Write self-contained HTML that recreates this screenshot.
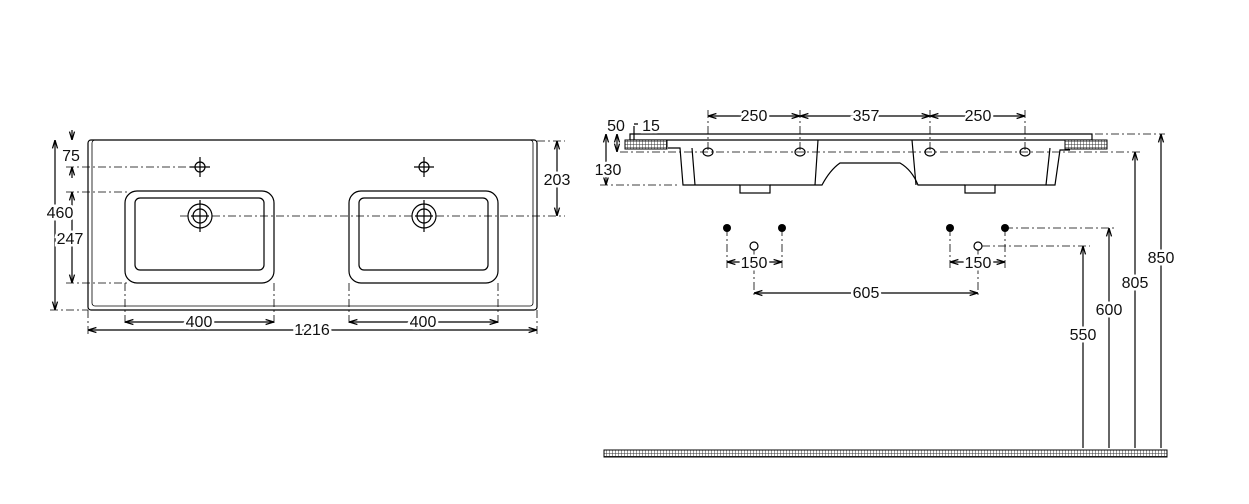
<!DOCTYPE html>
<html><head><style>body{margin:0;background:#fff}svg{display:block}text{font-family:"Liberation Sans",sans-serif;font-size:16px;fill:#111}</style></head><body>
<svg width="1249" height="504" viewBox="0 0 1249 504" xmlns="http://www.w3.org/2000/svg">
<defs>
<marker id="a" viewBox="0 0 10 10" refX="10" refY="5" markerWidth="7" markerHeight="7" orient="auto-start-reverse"><path d="M0,2L10,5L0,8" fill="none" stroke="#000" stroke-width="1.5"/></marker>
<pattern id="h" width="3" height="3" patternUnits="userSpaceOnUse"><rect width="3" height="3" fill="#fff"/><path d="M0,0H3M0,0V3" stroke="#333" stroke-width="1"/></pattern>
</defs>
<g stroke="#000" fill="none" stroke-width="1.2">
<rect x="88" y="140" width="449" height="170" rx="3"/>
<rect x="92" y="140" width="441" height="166" rx="3" stroke-width="0.8"/>
<g stroke-dasharray="8,3,2,3" stroke-width="0.8">
<line x1="50" y1="310" x2="88" y2="310"/><line x1="66" y1="167" x2="190" y2="167"/><line x1="66" y1="192" x2="130" y2="192"/><line x1="66" y1="283" x2="130" y2="283"/>
<line x1="180" y1="216" x2="565" y2="216"/><line x1="537" y1="141" x2="565" y2="141"/>
<line x1="125" y1="283" x2="125" y2="326"/><line x1="274" y1="283" x2="274" y2="326"/><line x1="349" y1="283" x2="349" y2="326"/><line x1="498" y1="283" x2="498" y2="326"/>
<line x1="88" y1="310" x2="88" y2="334"/><line x1="537" y1="310" x2="537" y2="334"/>
</g>
<g id="b1">
<rect x="125" y="191" width="149" height="92" rx="12"/>
<rect x="135" y="198" width="129" height="72" rx="5"/>
<circle cx="200" cy="216" r="12"/><circle cx="200" cy="216" r="7"/>
<path d="M191,216h18M200,207v18M200,200v32"/>
<circle cx="200" cy="167" r="5"/><path d="M190,167h20M200,157v20"/>
</g>
<use href="#b1" transform="translate(224,0)"/>
<line x1="55" y1="140" x2="55" y2="310" marker-start="url(#a)" marker-end="url(#a)"/>
<line x1="72" y1="130" x2="72" y2="140" marker-end="url(#a)"/><line x1="72" y1="178" x2="72" y2="167" marker-end="url(#a)"/>
<line x1="72" y1="192" x2="72" y2="283" marker-start="url(#a)" marker-end="url(#a)"/>
<line x1="557" y1="141" x2="557" y2="216" marker-start="url(#a)" marker-end="url(#a)"/>
<line x1="125" y1="322" x2="274" y2="322" marker-start="url(#a)" marker-end="url(#a)"/>
<line x1="349" y1="322" x2="498" y2="322" marker-start="url(#a)" marker-end="url(#a)"/>
<line x1="88" y1="330" x2="537" y2="330" marker-start="url(#a)" marker-end="url(#a)"/>
<path d="M630,134H1092V140H630Z"/>
<path d="M668,148H680L683,185H740M770,185H822Q830,170 840,163H900Q912,170 918,185H965M995,185H1055L1060,150H1070"/>
<path d="M692,148L695,185M818,140L815,185M912,140L916,185M1050,148L1046,185"/>
<rect x="740" y="185" width="30" height="8"/><rect x="965" y="185" width="30" height="8"/>
<ellipse cx="708" cy="152" rx="5" ry="4"/><ellipse cx="800" cy="152" rx="5" ry="4"/><ellipse cx="930" cy="152" rx="5" ry="4"/><ellipse cx="1025" cy="152" rx="5" ry="4"/>
<g stroke-dasharray="8,3,2,3" stroke-width="0.8">
<line x1="620" y1="152" x2="1140" y2="152"/><line x1="600" y1="185" x2="680" y2="185"/><line x1="1095" y1="134" x2="1165" y2="134"/>
<line x1="708" y1="110" x2="708" y2="150"/><line x1="800" y1="110" x2="800" y2="150"/><line x1="930" y1="110" x2="930" y2="150"/><line x1="1025" y1="110" x2="1025" y2="150"/>
<line x1="727" y1="228" x2="727" y2="268"/><line x1="782" y1="228" x2="782" y2="268"/><line x1="950" y1="228" x2="950" y2="268"/><line x1="1005" y1="228" x2="1005" y2="268"/>
<line x1="754" y1="250" x2="754" y2="298"/><line x1="978" y1="250" x2="978" y2="298"/>
<line x1="1005" y1="228" x2="1115" y2="228"/><line x1="982" y1="246" x2="1090" y2="246"/>
</g>
<line x1="708" y1="116" x2="800" y2="116" marker-start="url(#a)" marker-end="url(#a)"/>
<line x1="800" y1="116" x2="930" y2="116" marker-start="url(#a)" marker-end="url(#a)"/>
<line x1="930" y1="116" x2="1025" y2="116" marker-start="url(#a)" marker-end="url(#a)"/>
<circle cx="754" cy="246" r="4"/><circle cx="978" cy="246" r="4"/>
<line x1="727" y1="262" x2="782" y2="262" marker-start="url(#a)" marker-end="url(#a)"/>
<line x1="950" y1="262" x2="1005" y2="262" marker-start="url(#a)" marker-end="url(#a)"/>
<line x1="754" y1="293" x2="978" y2="293" marker-start="url(#a)" marker-end="url(#a)"/>
<line x1="1083" y1="246" x2="1083" y2="448" marker-start="url(#a)"/>
<line x1="1109" y1="228" x2="1109" y2="448" marker-start="url(#a)"/>
<line x1="1135" y1="152" x2="1135" y2="448" marker-start="url(#a)"/>
<line x1="1161" y1="134" x2="1161" y2="448" marker-start="url(#a)"/>
<line x1="606" y1="134" x2="606" y2="185" marker-start="url(#a)" marker-end="url(#a)"/>
<line x1="617" y1="134" x2="617" y2="152" marker-start="url(#a)" marker-end="url(#a)"/>
<path d="M634,126V146M634,124H638"/>
</g>
<rect x="625" y="140" width="42" height="9" fill="url(#h)" stroke="#000"/>
<rect x="1065" y="140" width="42" height="9" fill="url(#h)" stroke="#000"/>
<rect x="604" y="450" width="563" height="7" fill="url(#h)" stroke="#000"/>
<g fill="#000"><circle cx="727" cy="228" r="4"/><circle cx="782" cy="228" r="4"/><circle cx="950" cy="228" r="4"/><circle cx="1005" cy="228" r="4"/></g>
<g text-anchor="middle" stroke="#fff" stroke-width="5" paint-order="stroke">
<text x="71" y="161">75</text><text x="60" y="218">460</text><text x="70" y="244">247</text><text x="557" y="185">203</text>
<text x="199" y="327">400</text><text x="423" y="327">400</text><text x="312" y="335">1216</text>
<text x="754" y="121">250</text><text x="866" y="121">357</text><text x="978" y="121">250</text>
<text x="616" y="131">50</text><text x="651" y="131">15</text><text x="608" y="175">130</text>
<text x="754" y="268">150</text><text x="978" y="268">150</text><text x="866" y="298">605</text>
<text x="1083" y="340">550</text><text x="1109" y="315">600</text><text x="1135" y="288">805</text><text x="1161" y="263">850</text>
</g>
</svg>
</body></html>
